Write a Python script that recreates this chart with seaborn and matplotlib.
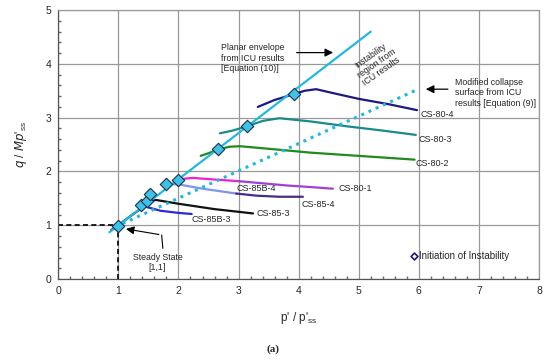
import numpy as np
import pandas as pd
import matplotlib.pyplot as plt
import seaborn as sns

# stress paths (p'/p'ss, q/Mp'ss)
cs80_4_x = [3.32, 3.6, 3.93, 4.1, 4.29, 4.6, 5.0, 5.5, 5.97]
cs80_4_y = [3.20, 3.33, 3.44, 3.50, 3.53, 3.45, 3.35, 3.25, 3.14]
cs80_3_x = [2.69, 2.9, 3.14, 3.4, 3.68, 4.2, 4.8, 5.4, 5.95]
cs80_3_y = [2.71, 2.76, 2.84, 2.94, 2.99, 2.93, 2.84, 2.76, 2.68]
cs80_2_x = [2.37, 2.5, 2.66, 2.85, 3.02, 3.52, 4.2, 5.0, 5.93]
cs80_2_y = [2.29, 2.34, 2.41, 2.46, 2.47, 2.42, 2.35, 2.29, 2.22]
cs80_1a_x = [2.0, 2.13, 2.24, 2.6, 3.0]
cs80_1a_y = [1.85, 1.87, 1.88, 1.85, 1.82]
cs80_1b_x = [3.0, 3.4, 3.8, 4.2, 4.57]
cs80_1b_y = [1.82, 1.78, 1.74, 1.71, 1.68]
cs85_4a_x = [1.8, 2.0, 2.4, 2.96]
cs85_4a_y = [1.77, 1.76, 1.68, 1.59]
cs85_4b_x = [2.96, 3.3, 3.68, 4.07]
cs85_4b_y = [1.59, 1.55, 1.53, 1.53]
cs85_3_x = [0.88, 1.0, 1.2, 1.4, 1.52, 1.63, 2.0, 2.6, 3.24]
cs85_3_y = [0.91, 1.0, 1.17, 1.33, 1.45, 1.47, 1.40, 1.30, 1.22]
cs85b3_x = [1.38, 1.47, 1.7, 2.0, 2.22]
cs85b3_y = [1.375, 1.34, 1.27, 1.23, 1.21]

envelope_x = [0.85, 5.2]
envelope_y = [0.87, 4.6]
collapse_x = [0.95, 5.95]
collapse_y = [0.97, 3.51]

# initiation of instability points
init_x = [1.0, 1.38, 1.48, 1.52, 1.8, 2.0, 2.66, 3.14, 3.93]
init_y = [0.98, 1.375, 1.45, 1.59, 1.77, 1.85, 2.41, 2.84, 3.44]

path_labels = ["CS-80-4", "CS-80-3", "CS-80-2", "CS-80-1", "CS-85B-4", "CS-85-4", "CS-85-3", "CS-85B-3"]
label_x = [6.03, 6.0, 5.95, 4.66, 2.96, 4.04, 3.3, 2.22]
label_y = [3.06, 2.60, 2.14, 1.68, 1.69, 1.39, 1.22, 1.10]

sns.set_theme(style="white")
plt.rcParams['font.family'] = ['Liberation Sans', 'DejaVu Sans']

fig = plt.figure(figsize=(5.5, 3.61), dpi=100)
ax = fig.add_axes([0.106, 0.227, 0.874, 0.745])

paths = [
    (cs80_4_x, cs80_4_y, "#1a1a80"),
    (cs80_3_x, cs80_3_y, "#1a8a8a"),
    (cs80_2_x, cs80_2_y, "#1f8a1f"),
    (cs80_1a_x, cs80_1a_y, "#f020d8"),
    (cs80_1b_x, cs80_1b_y, "#a040d8"),
    (cs85_4a_x, cs85_4a_y, "#7f95e8"),
    (cs85_4b_x, cs85_4b_y, "#4a2a85"),
    (cs85_3_x, cs85_3_y, "#111111"),
    (cs85b3_x, cs85b3_y, "#2a2ad8"),
]
for px, py, col in paths:
    sns.lineplot(x=px, y=py, color=col, lw=1.6, ax=ax, sort=False)

# steady state dashed guides
ax.plot([0, 1], [1, 1], color="black", ls=(0, (3, 2)), lw=1.2)
ax.plot([1, 1], [0, 1], color="black", ls=(0, (3, 2)), lw=1.2)

sns.lineplot(x=envelope_x, y=envelope_y, color="#22b8e0", lw=1.6, ax=ax)
ax.plot(collapse_x, collapse_y, color="#22b8e0", lw=2.2, ls=(0, (1, 1.6)))

sns.scatterplot(x=init_x, y=init_y, marker="D", s=40, color="#3ec3e8",
                edgecolor="#1a3050", linewidth=0.8, ax=ax, zorder=5)

for t, tx, ty in zip(path_labels, label_x, label_y):
    ax.text(tx, ty, t, fontsize=6.5, va="center", ha="left")

ax.text(2.71, 4.38, "Planar envelope\nfrom ICU results\n[Equation (10)]",
        fontsize=6.3, va="top", ha="left", linespacing=1.15)
ax.annotate("", xy=(4.62, 4.21), xytext=(3.92, 4.21),
            arrowprops=dict(arrowstyle="-|>", color="black", lw=0.9))
ax.text(5.29, 4.01, "Instability\nregion from\nICU results", fontsize=6.3,
        rotation=35, ha="center", va="center", linespacing=1.1)
ax.text(6.6, 3.73, "Modified collapse\nsurface from ICU\nresults [Equation (9)]",
        fontsize=6.3, va="top", ha="left", linespacing=1.15)
ax.annotate("", xy=(6.07, 3.53), xytext=(6.53, 3.53),
            arrowprops=dict(arrowstyle="-|>", color="black", lw=0.9))

ax.text(1.65, 0.40, "Steady State", fontsize=6.3, ha="center", va="center")
ax.text(1.65, 0.21, "[1,1]", fontsize=6.3, ha="center", va="center")
ax.plot([1.74, 1.72], [0.57, 0.82], color="black", lw=0.8)
ax.annotate("", xy=(1.08, 0.94), xytext=(1.72, 0.82),
            arrowprops=dict(arrowstyle="-|>", color="black", lw=0.8))

# legend entry
ax.scatter([5.92], [0.43], marker="D", s=12, facecolor="white", edgecolor="#1a1a80", lw=1.2)
ax.text(6.0, 0.43, "Initiation of Instability", fontsize=7, va="center", ha="left")

ax.set_xlim(0, 8)
ax.set_ylim(0, 5)
ax.set_xticks(range(0, 9))
ax.set_yticks(range(0, 6))
ax.set_xticks(np.arange(0, 8.01, 0.2), minor=True)
ax.set_yticks(np.arange(0, 5.01, 0.2), minor=True)
ax.tick_params(which="major", length=0, labelsize=7.5, pad=5)
ax.tick_params(which="minor", direction="in", length=2.5, color="#666666",
               bottom=True, left=True)
ax.grid(True, which="major", color="#999999", lw=0.9)
for side in ["top", "right"]:
    ax.spines[side].set_color("#999999")
for side in ["left", "bottom"]:
    ax.spines[side].set_color("#555555")
for s in ax.spines.values():
    s.set_linewidth(0.9)

ax.set_xlabel("p' / p'$_{\\mathregular{ss}}$", fontsize=8.5, labelpad=10)
ax.set_ylabel("$\\it{q}$ / $\\it{Mp}$'$_{\\mathregular{ss}}$", fontsize=8.5, labelpad=12)

fig.text(0.497, 0.032, "(a)", fontsize=8, fontweight="bold",
         family="Liberation Serif", ha="center", va="center")

fig.savefig("out.png", dpi=100)
